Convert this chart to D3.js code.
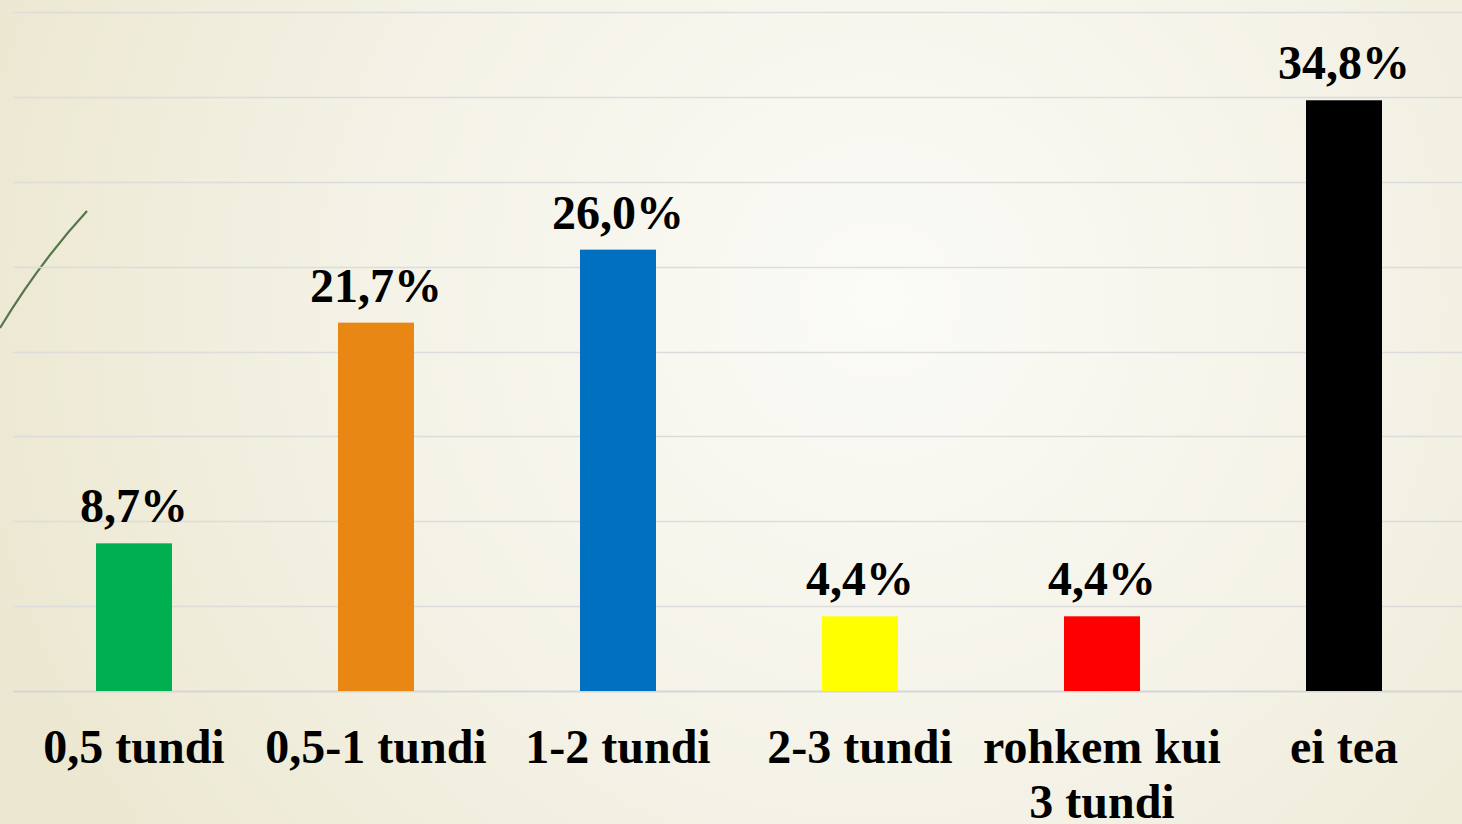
<!DOCTYPE html>
<html>
<head>
<meta charset="utf-8">
<script src="https://cdn.jsdelivr.net/npm/d3@7"></script>
<style>
  html, body { margin: 0; padding: 0; overflow: hidden; }
  svg { display: block; }
  text { font-family: "Liberation Serif", "Times New Roman", serif; font-weight: bold; fill: #000; }
</style>
</head>
<body>
<div id="chart"></div>
<script>
(function () {

    // data
    var categories = ["0,5 tundi", "0,5-1 tundi", "1-2 tundi", "2-3 tundi", "rohkem kui 3 tundi", "ei tea"];
    var values = [8.7, 21.7, 26.0, 4.4, 4.4, 34.8];
    var colors = ["#00b050", "#e88713", "#0070c0", "#ffff00", "#ff0000", "#000000"];
    var yTicks = [0, 5, 10, 15, 20, 25, 30, 35, 40];

    var w = 1462, h = 824;
    var left = 13, right = 1465, base = 691, top = 12;

    var svg = d3.select("#chart")
        .append("svg")
        .attr("width", w)
        .attr("height", h);

    // background wash
    var defs = svg.append("defs");
    var grad = defs.append("radialGradient")
        .attr("id", "bg")
        .attr("gradientUnits", "userSpaceOnUse")
        .attr("cx", 880).attr("cy", 300).attr("r", 950);
    grad.append("stop").attr("offset", "0%").attr("stop-color", "#fbfbf7");
    grad.append("stop").attr("offset", "55%").attr("stop-color", "#f4f2e6");
    grad.append("stop").attr("offset", "100%").attr("stop-color", "#ebe7d0");

    svg.append("rect")
        .attr("width", w).attr("height", h)
        .attr("fill", "url(#bg)");

    // thin green stroke in the top-left corner
    svg.append("path")
        .attr("d", "M0,328 Q40,262 87,211")
        .attr("fill", "none")
        .attr("stroke", "#56764a")
        .attr("stroke-width", 2.2);

    var x = d3.scaleBand()
        .domain(categories)
        .range([left, right])
        .paddingInner(0.686)
        .paddingOuter(0.343);

    var y = d3.scaleLinear()
        .domain([0, 40])
        .range([base, top]);

    // grid
    svg.append("g")
        .selectAll("line")
        .data(yTicks)
        .enter().append("line")
        .attr("x1", left)
        .attr("x2", w)
        .attr("y1", function (d) { return Math.round(y(d)) + 0.5; })
        .attr("y2", function (d) { return Math.round(y(d)) + 0.5; })
        .attr("stroke", function (d) { return d === 0 ? "#d6d6d6" : "#dcdcdc"; })
        .attr("stroke-width", function (d) { return d === 0 ? 2 : 1.5; });

    var data = categories.map(function (c, i) {
        return { name: c, value: values[i], color: colors[i] };
    });

    svg.append("g")
        .selectAll("rect")
        .data(data)
        .enter().append("rect")
        .attr("x", function (d) { return x(d.name); })
        .attr("y", function (d) { return y(d.value); })
        .attr("width", x.bandwidth())
        .attr("height", function (d) { return base - y(d.value); })
        .attr("fill", function (d) { return d.color; });

    // value labels
    svg.append("g")
        .selectAll("text")
        .data(data)
        .enter().append("text")
        .attr("x", function (d) { return x(d.name) + x.bandwidth() / 2; })
        .attr("y", function (d) { return y(d.value) - 21; })
        .attr("text-anchor", "middle")
        .style("font-size", "48px")
        .text(function (d) { return d.value.toFixed(1).replace(".", ",") + "%"; });

    // category labels, wrapped to the band step
    var catLabels = svg.append("g")
        .selectAll("text")
        .data(categories)
        .enter().append("text")
        .attr("x", function (d) { return x(d) + x.bandwidth() / 2; })
        .attr("y", 763)
        .attr("text-anchor", "middle")
        .style("font-size", "48px")
        .text(function (d) { return d; });

    catLabels.each(function (d) {
        var t = d3.select(this);
        var cx = +t.attr("x");
        var words = d.split(" ");
        var lines = [], line = [];
        t.text(null);
        var probe = t.append("tspan");
        words.forEach(function (wd) {
            line.push(wd);
            probe.text(line.join(" "));
            if (probe.node().getComputedTextLength() > x.step() && line.length > 1) {
                line.pop();
                lines.push(line.join(" "));
                line = [wd];
            }
        });
        lines.push(line.join(" "));
        probe.remove();
        lines.forEach(function (l, i) {
            t.append("tspan")
                .attr("x", cx)
                .attr("dy", i === 0 ? 0 : 55)
                .text(l);
        });
    });
})();
</script>
</body>
</html>
